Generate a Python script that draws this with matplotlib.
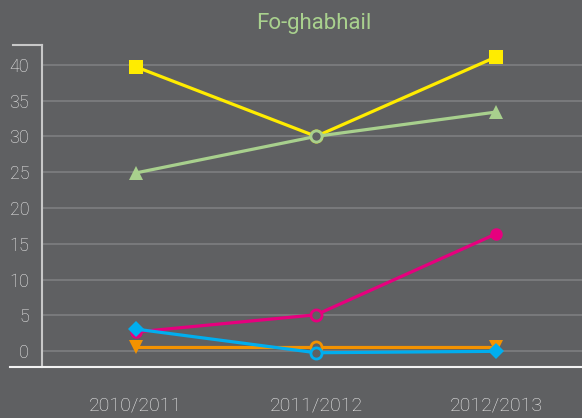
import matplotlib
matplotlib.use("Agg")
import matplotlib.pyplot as plt
from matplotlib.lines import Line2D

categories = ["2010/2011", "2011/2012", "2012/2013"]
yellow_vals = [39.7, 30.0, 41.1]
pink_vals = [2.7, 5.1, 16.4]
orange_vals = [0.6, 0.6, 0.6]
blue_vals = [3.1, -0.2, 0.0]
green_vals = [24.9, 30.0, 33.4]
yticks = [0, 5, 10, 15, 20, 25, 30, 35, 40]
title = "Fo-ghabhail"

series = [
    (yellow_vals, "#ffec00", "s", 9.5),
    (pink_vals, "#e6007e", "o", 9),
    (orange_vals, "#f39200", "v", 10),
    (blue_vals, "#00aeef", "D", 8),
    (green_vals, "#a8d08d", "^", 10),
]

BG = "#5f6062"
TXT = "#ececec"
FONT = ["Roboto", "DejaVu Sans"]

fig = plt.figure(figsize=(5.82, 4.18), dpi=100, facecolor=BG)
ax = fig.add_axes([41.7 / 582, 1 - 367.3 / 418, 1 - 41.7 / 582, (367.3 - 45.3) / 418])
ax.set_facecolor(BG)

x = list(range(len(categories)))
for i, (vals, col, mk, ms) in enumerate(series):
    z = 3 + i
    ax.plot(x, vals, color=col, lw=2.3, marker=mk, markersize=ms,
            markevery=[0, 2], markeredgewidth=0, markerfacecolor=col, zorder=z,
            solid_capstyle="round")
    ax.plot([x[1]], [vals[1]], linestyle="none", marker="o", markersize=8,
            markerfacecolor=BG, markeredgecolor=col, markeredgewidth=2, zorder=z + 0.5)

ax.set_xlim(-0.523, 2.476)
ax.set_ylim(-2.23, 42.71)
ax.set_yticks(yticks)
ax.set_yticklabels([str(v) for v in yticks])
ax.set_xticks(x)
ax.set_xticklabels(categories)
ax.grid(axis="y", color="#808183", lw=1.1)
ax.set_axisbelow(True)
ax.tick_params(axis="y", length=0, pad=9, colors=TXT, labelsize=13)
ax.tick_params(axis="x", length=0, pad=21, colors=TXT, labelsize=14)
for lab in ax.get_xticklabels() + ax.get_yticklabels():
    lab.set_family(FONT)
    lab.set_fontweight("light")

for s in ["top", "right", "bottom"]:
    ax.spines[s].set_visible(False)
ax.spines["left"].set_color("#c8c8c8")
ax.spines["left"].set_linewidth(1.5)

# top tick mark of value axis and bottom category axis line
fig.add_artist(Line2D([13 / 582, 42.4 / 582], [1 - 45.3 / 418] * 2, color="#c8c8c8", lw=1.5))
fig.add_artist(Line2D([10 / 582, 1.0], [1 - 367.3 / 418] * 2, color="#f2f2f2", lw=1.5))

fig.text(314 / 582, 1 - 23 / 418, title, color="#a9d18e", fontsize=16,
         family=FONT, fontweight="normal", ha="center", va="center")

fig.savefig("out.png", dpi=100, facecolor=BG)
